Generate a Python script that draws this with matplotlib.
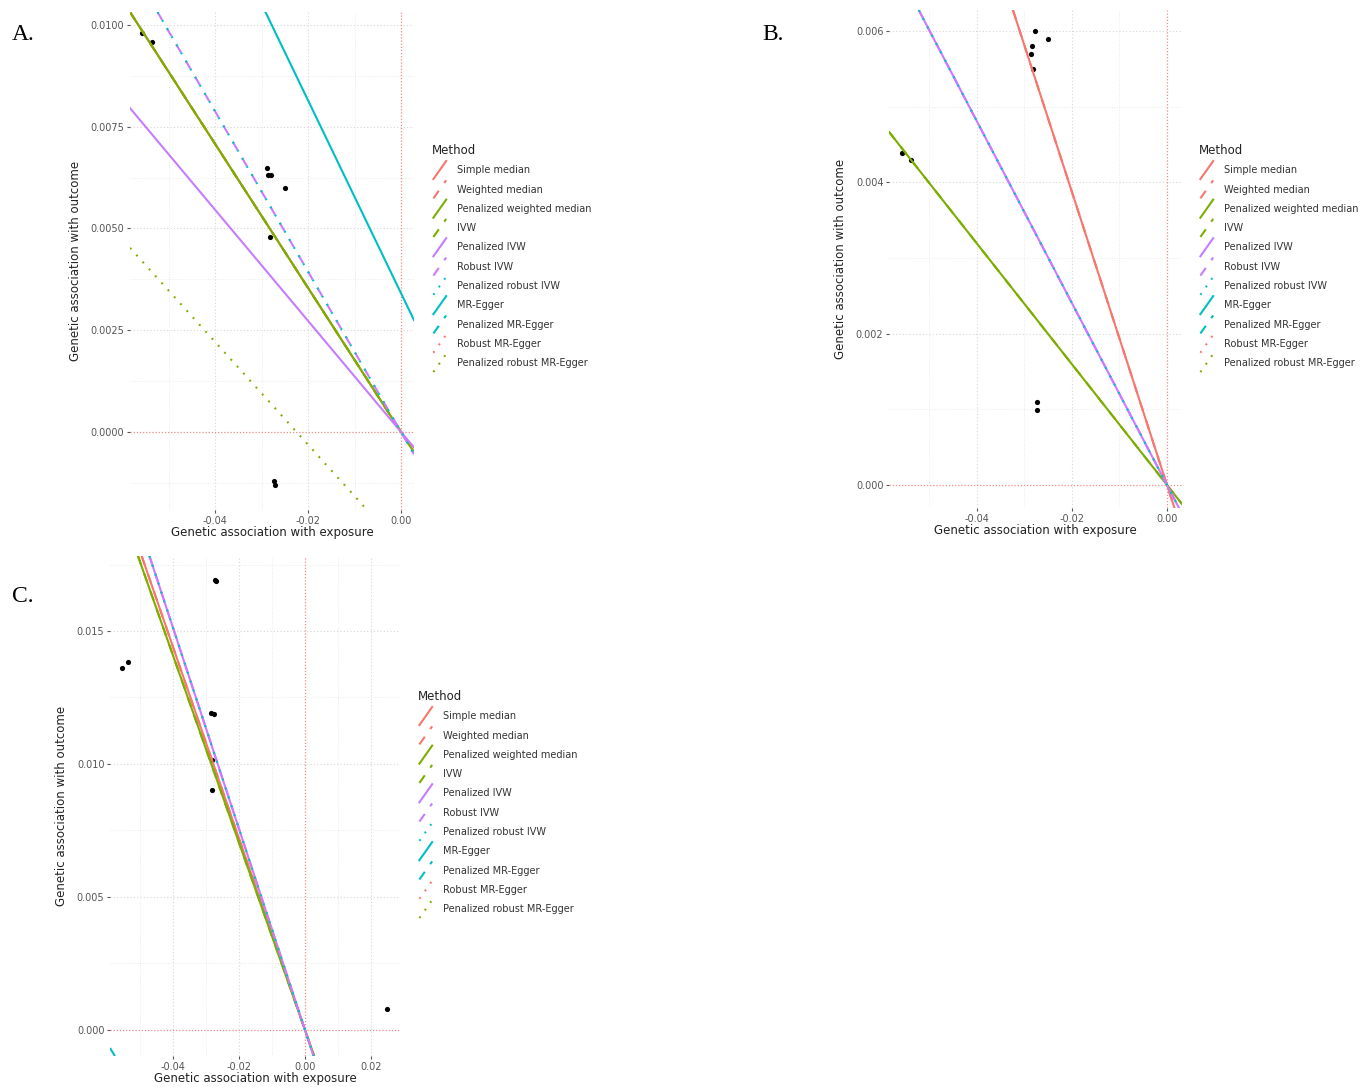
import numpy as np
import matplotlib
matplotlib.use("Agg")
from matplotlib import pyplot as plt
from matplotlib.lines import Line2D
from matplotlib.legend_handler import HandlerLine2D

plt.rcParams['font.family'] = ['DejaVu Sans']
plt.rcParams['axes.unicode_minus'] = False

methods = ['Simple median', 'Weighted median', 'Penalized weighted median', 'IVW',
           'Penalized IVW', 'Robust IVW', 'Penalized robust IVW', 'MR-Egger',
           'Penalized MR-Egger', 'Robust MR-Egger', 'Penalized robust MR-Egger']
RED, GREEN, PURPLE, CYAN = '#F8766D', '#7CAE00', '#C77CFF', '#00BFC4'
colours = [RED, RED, GREEN, GREEN, PURPLE, PURPLE, CYAN, CYAN, CYAN, RED, GREEN]
styles = ['solid', 'dashed', 'solid', 'dashed', 'solid', 'dashed', 'dotted',
          'solid', 'dashed', 'dotted', 'dotted']

# panel A
a_bx = [-0.0557, -0.0535, -0.0288, -0.0286, -0.0279, -0.0250, -0.0282, -0.0273, -0.0271]
a_by = [0.0098, 0.00958, 0.00649, 0.00631, 0.00631, 0.0060, 0.00479, -0.0012, -0.0013]
a_slope = [-0.177, -0.177, -0.177, -0.177, -0.1365, -0.197, -0.197,
           -0.237, -0.25, -0.25, -0.1263]
a_icept = [0, 0, 0, 0, 0, 0, 0, 0.00341, 0.0125, 0.0125, -0.00284]

# panel B
b_bx = [-0.0278, -0.0250, -0.0284, -0.0286, -0.0282, -0.0558, -0.0539, -0.0274, -0.0274]
b_by = [0.0060, 0.00589, 0.0058, 0.0057, 0.0055, 0.00439, 0.0043, 0.0011, 0.000995]
b_slope = [-0.1937, -0.1937, -0.0798, -0.0798, -0.1202, -0.1202, -0.1202,
           -0.10, -0.10, -0.10, -0.10]
b_icept = [0, 0, 0, 0, 0, 0, 0, 0.008, 0.008, 0.008, 0.008]

# panel C
c_bx = [-0.0273, -0.0271, -0.0536, -0.0555, -0.0285, -0.0276, -0.0282, -0.0282, 0.0249]
c_by = [0.01692, 0.01688, 0.01383, 0.01361, 0.01192, 0.01188, 0.01015, 0.00902, 0.00079]
c_slope = [-0.360, -0.360, -0.352, -0.352, -0.378, -0.378, -0.378,
           -0.30, -0.20, -0.30, -0.30]
c_icept = [0, 0, 0, 0, 0, 0, 0, 0.04, -0.0125, 0.04, 0.04]


def dash(style):
    if style == 'dashed':
        return (0, (4.5, 4.5))
    if style == 'dotted':
        return (0, (0.9, 3.6))
    return '-'


class DiagHandler(HandlerLine2D):
    def create_artists(self, legend, orig_handle, xdescent, ydescent, width, height, fontsize, trans):
        ln = Line2D([-xdescent + 1, -xdescent + width - 1], [-ydescent - 2, -ydescent + height + 2])
        self.update_prop(ln, orig_handle, legend)
        ln.set_transform(trans)
        return [ln]


def panel(rect, bx, by, slope, icept, xlim, ylim, xticks, yticks, xminor, yminor, yfmt):
    ax = fig.add_axes(rect)
    for s in ax.spines.values():
        s.set_visible(False)
    for v in xminor:
        ax.axvline(v, color='#e3e3e3', ls=(0, (1, 2)), lw=0.6, zorder=0)
    for v in yminor:
        ax.axhline(v, color='#e3e3e3', ls=(0, (1, 2)), lw=0.6, zorder=0)
    for v in xticks:
        if v != 0:
            ax.axvline(v, color='#d6d6d6', ls=(0, (1, 2)), lw=0.8, zorder=0)
    for v in yticks:
        if v != 0:
            ax.axhline(v, color='#d6d6d6', ls=(0, (1, 2)), lw=0.8, zorder=0)
    ax.axhline(0, color='#f28a8a', ls=(0, (1, 1.5)), lw=0.9, zorder=1)
    ax.axvline(0, color='#f28a8a', ls=(0, (1, 1.5)), lw=0.9, zorder=1)
    ax.scatter(bx, by, s=14, color='black', zorder=2, linewidths=0)
    for i in range(len(methods)):
        ax.axline((0, icept[i]), slope=slope[i], color=colours[i], ls=dash(styles[i]),
                  lw=1.5, zorder=3)
    ax.set_xlim(xlim)
    ax.set_ylim(ylim)
    ax.set_xticks(xticks)
    ax.set_yticks(yticks)
    ax.set_xticklabels([f'{v:.2f}' for v in xticks])
    ax.set_yticklabels([yfmt.format(v) for v in yticks])
    ax.tick_params(length=2.5, width=0.8, color='#555555', labelcolor='#555555',
                   labelsize=7, pad=1.5)
    ax.set_xlabel('Genetic association with exposure', fontsize=8.5, color='#222222', labelpad=0)
    ax.set_ylabel('Genetic association with outcome', fontsize=8.5, color='#222222', labelpad=6)
    return ax


fig = plt.figure(figsize=(13.63, 10.87), dpi=100)
W, H = 1363, 1087


def rect(l, t, r, b):
    return [l / W, 1 - b / H, (r - l) / W, (b - t) / H]


panel(rect(130, 12, 414, 510), a_bx, a_by, a_slope, a_icept,
      (-0.0583, 0.0028), (-0.00192, 0.01032), [-0.04, -0.02, 0.00],
      [0.0, 0.0025, 0.005, 0.0075, 0.01], [-0.05, -0.03, -0.01],
      [-0.00125, 0.00125, 0.00375, 0.00625, 0.00875], '{:.4f}')
panel(rect(889, 10, 1182, 508), b_bx, b_by, b_slope, b_icept,
      (-0.0585, 0.00316), (-0.000305, 0.00628), [-0.04, -0.02, 0.00],
      [0.0, 0.002, 0.004, 0.006], [-0.05, -0.03, -0.01],
      [0.001, 0.003, 0.005], '{:.3f}')
panel(rect(110, 556, 400, 1056), c_bx, c_by, c_slope, c_icept,
      (-0.0591, 0.0288), (-0.00098, 0.01782), [-0.04, -0.02, 0.00, 0.02],
      [0.0, 0.005, 0.01, 0.015], [-0.05, -0.03, -0.01, 0.01],
      [0.0025, 0.0075, 0.0125, 0.0175], '{:.3f}')

handles = [Line2D([], [], color=colours[i], ls=dash(styles[i]), lw=1.5) for i in range(len(methods))]
for (lx, ly) in [(432, 144), (1199, 144), (418, 690)]:
    leg = fig.legend(handles, methods, loc='upper left', bbox_to_anchor=(lx / W, 1 - ly / H),
                     frameon=False, title='Method', fontsize=7, title_fontsize=8.5,
                     handlelength=1.6, handleheight=1.6, labelspacing=0.7,
                     handletextpad=1.0, borderpad=0, borderaxespad=0, alignment='left',
                     handler_map={Line2D: DiagHandler()})
    for t in leg.get_texts():
        t.set_color('#333333')
    leg.get_title().set_color('#222222')

for lab, x, y in [('A.', 12, 35), ('B.', 762, 35), ('C.', 12, 596)]:
    fig.text(x / W, 1 - y / H, lab, fontsize=17, family='Liberation Serif', va='center', ha='left')

fig.savefig('out.png', dpi=100)
